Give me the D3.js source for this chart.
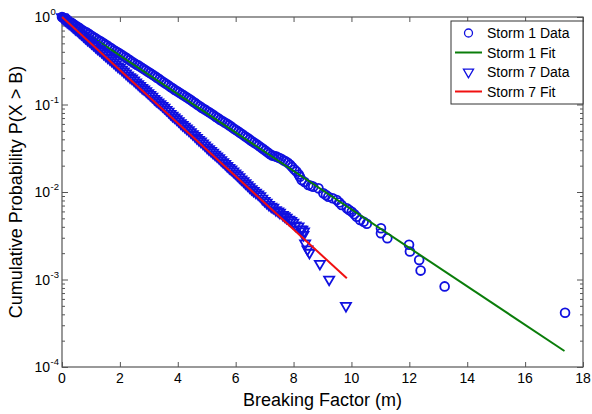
<!DOCTYPE html>
<html>
<head>
<meta charset="utf-8">
<script src="https://cdn.jsdelivr.net/npm/d3@7"></script>
<style>
    body { margin: 0; background: #fff; }
    text { font-family: "Liberation Sans", Arial, sans-serif; fill: #000; }
</style>
</head>
<body>
<svg id="chart" width="592" height="414"></svg>
<script>
// values: x = breaking factor (m), e = log10 P(X > B)
const storm1X = [0, 0.03, 0.07, 0.12, 0.18, 0.25, 0.33, 0.4, 0.48, 0.56, 0.63, 0.71, 0.79, 0.86, 0.94,
    1.02, 1.1, 1.17, 1.25, 1.33, 1.41, 1.48, 1.56, 1.64, 1.72, 1.8, 1.87, 1.95, 2.03, 2.11, 2.19, 2.26,
    2.34, 2.42, 2.5, 2.58, 2.65, 2.73, 2.81, 2.89, 2.97, 3.04, 3.12, 3.2, 3.28, 3.36, 3.43, 3.51, 3.59,
    3.67, 3.75, 3.82, 3.9, 3.98, 4.06, 4.14, 4.21, 4.29, 4.37, 4.45, 4.53, 4.6, 4.68, 4.76, 4.84, 4.92,
    4.99, 5.07, 5.15, 5.23, 5.31, 5.38, 5.46, 5.54, 5.62, 5.7, 5.77, 5.85, 5.93, 6.01, 6.09, 6.16, 6.24,
    6.32, 6.4, 6.48, 6.55, 6.63, 6.71, 6.79, 6.87, 6.94, 7.02, 7.1, 7.18, 7.26, 7.33, 7.41, 7.49, 7.57,
    7.65, 7.72, 7.8, 7.88, 7.95, 8.03, 8.1, 8.18,
    8.22, 8.28, 8.38, 8.51, 8.6, 8.68, 8.86, 9.03, 9.12, 9.2, 9.35, 9.49, 9.58, 9.66, 9.84, 9.92, 10.01,
    10.1, 10.18, 10.3, 10.42, 10.53, 11.02, 11.02, 11.24, 11.99, 12.02, 12.34, 12.39, 13.22, 17.38]
const storm1E = [0, -0.007, -0.015, -0.026, -0.039, -0.055, -0.067, -0.083, -0.1, -0.118, -0.133,
    -0.151, -0.168, -0.179, -0.196, -0.214, -0.231, -0.247, -0.264, -0.277, -0.294, -0.31, -0.327,
    -0.345, -0.362, -0.38, -0.395, -0.408, -0.425, -0.443, -0.46, -0.476, -0.493, -0.511, -0.528, -0.546,
    -0.556, -0.574, -0.592, -0.609, -0.627, -0.64, -0.658, -0.675, -0.693, -0.71, -0.728, -0.745, -0.763,
    -0.78, -0.8, -0.815, -0.833, -0.848, -0.866, -0.883, -0.897, -0.914, -0.932, -0.949, -0.969,
    -0.984, -1.002, -1.021, -1.039, -1.054, -1.07, -1.085, -1.103, -1.12, -1.14, -1.155, -1.173, -1.188,
    -1.206, -1.221, -1.236, -1.253, -1.274, -1.292, -1.309, -1.326, -1.344, -1.362, -1.381, -1.399,
    -1.417, -1.435, -1.452, -1.47, -1.49, -1.506, -1.527, -1.545, -1.565, -1.583, -1.588, -1.596, -1.608,
    -1.621, -1.638, -1.649, -1.666, -1.689, -1.714, -1.742, -1.767, -1.8,
    -1.825, -1.863, -1.885, -1.92, -1.93, -1.939, -1.958, -2.015, -2.035, -2.054, -2.072, -2.091, -2.12,
    -2.149, -2.186, -2.205, -2.225, -2.255, -2.282, -2.32, -2.34, -2.362, -2.415, -2.472, -2.529, -2.602,
    -2.68, -2.778, -2.898, -3.079, -3.38]

const storm7X = [0, 0.03, 0.07, 0.12, 0.18, 0.25, 0.32, 0.39, 0.46, 0.53, 0.6, 0.67, 0.74, 0.81, 0.88,
    0.95, 1.02, 1.09, 1.16, 1.23, 1.3, 1.37, 1.44, 1.51, 1.58, 1.65, 1.72, 1.79, 1.86, 1.93, 2.0, 2.07,
    2.14, 2.21, 2.28, 2.35, 2.42, 2.49, 2.56, 2.63, 2.7, 2.77, 2.84, 2.91, 2.98, 3.05, 3.12, 3.19, 3.26,
    3.33, 3.4, 3.47, 3.54, 3.61, 3.68, 3.75, 3.82, 3.89, 3.96, 4.03, 4.1, 4.17, 4.24, 4.31, 4.38, 4.45,
    4.52, 4.59, 4.66, 4.73, 4.8, 4.87, 4.94, 5.01, 5.08, 5.15, 5.22, 5.29, 5.36, 5.43, 5.5, 5.57, 5.64,
    5.71, 5.78, 5.85, 5.92, 5.99, 6.06, 6.13, 6.2, 6.27, 6.34, 6.41, 6.48, 6.55,
    6.62, 6.7, 6.78, 6.85, 6.92, 7.0, 7.07, 7.15, 7.23, 7.3, 7.39, 7.47, 7.53, 7.63, 7.69, 7.76, 7.85,
    7.92, 7.99, 8.07, 8.17, 8.25, 8.3, 8.36, 8.34, 8.4, 8.48, 8.55, 8.91, 9.23, 9.81]
const storm7E = [0, -0.009, -0.021, -0.037, -0.055, -0.074, -0.092, -0.114, -0.135, -0.151, -0.173,
    -0.194, -0.215, -0.237, -0.258, -0.274, -0.296, -0.317, -0.338, -0.36, -0.376, -0.397, -0.419, -0.44,
    -0.461, -0.478, -0.499, -0.52, -0.542, -0.563, -0.579, -0.601, -0.622, -0.643, -0.665, -0.686,
    -0.702, -0.724, -0.745, -0.766, -0.787, -0.809, -0.825, -0.846, -0.868, -0.889, -0.91, -0.935, -0.956,
    -0.974, -0.994, -1.015, -1.036, -1.06, -1.081, -1.105, -1.127, -1.145, -1.166, -1.188, -1.212, -1.233,
    -1.252, -1.273, -1.292, -1.314, -1.337, -1.358, -1.382, -1.404, -1.422, -1.443, -1.465, -1.489,
    -1.51, -1.529, -1.55, -1.571, -1.591, -1.612, -1.635, -1.657, -1.678, -1.702, -1.724, -1.742,
    -1.763, -1.785, -1.807, -1.83, -1.854, -1.875, -1.899, -1.921, -1.944, -1.965,
    -1.985, -2.005, -2.025, -2.045, -2.075, -2.1, -2.121, -2.145, -2.165, -2.179, -2.205, -2.22, -2.236,
    -2.26, -2.275, -2.293, -2.315, -2.33, -2.35, -2.38, -2.392, -2.425, -2.43, -2.45, -2.49, -2.587, -2.655,
    -2.693, -2.82, -3.0, -3.301]

// exponential fits are straight lines on the log axis: two end points each
const storm1FitX = [0, 17.36]
const storm1FitE = [0, -3.817]
const storm7FitX = [0, 9.84]
const storm7FitE = [0, -2.986]

const xTicks = [0, 2, 4, 6, 8, 10, 12, 14, 16, 18]
const yDecades = [-4, -3, -2, -1, 0]
const legendLabels = ['Storm 1 Data', 'Storm 1 Fit', 'Storm 7 Data', 'Storm 7 Fit']

const dataColor = '#1010e0'
const fit1Color = '#0a7d0a'
const fit7Color = '#f01010'
const axisColor = '#555'

let plotLeft = 62, plotRight = 583, plotTop = 17, plotBottom = 367

let $svg = d3.select('#chart')

let scaleX = d3.scaleLinear().domain([0, 18]).range([plotLeft, plotRight])
let scaleY = d3.scaleLog().domain([1e-4, 1]).range([plotBottom, plotTop])

function toPoints(xs, es) {
    return xs.map((x, i) => ({x: x, p: Math.pow(10, es[i])}))
}

// axes box and ticks
let majorY = yDecades.map(e => Math.pow(10, e))
let minorY = scaleY.ticks().filter(v => {
    let l = Math.log10(v)
    return Math.abs(l - Math.round(l)) > 1e-6
})

function styleAxis(g) {
    g.select('.domain').remove()
    g.selectAll('line').attr('stroke', axisColor)
    g.selectAll('text').remove()
}

$svg.append('g').attr('transform', 'translate(0,' + plotBottom + ')')
    .call(d3.axisBottom(scaleX).tickValues(xTicks).tickSize(-5)).call(styleAxis)
$svg.append('g').attr('transform', 'translate(0,' + plotTop + ')')
    .call(d3.axisTop(scaleX).tickValues(xTicks).tickSize(-5)).call(styleAxis)
$svg.append('g').attr('transform', 'translate(' + plotLeft + ',0)')
    .call(d3.axisLeft(scaleY).tickValues(majorY).tickSize(-6)).call(styleAxis)
$svg.append('g').attr('transform', 'translate(' + plotLeft + ',0)')
    .call(d3.axisLeft(scaleY).tickValues(minorY).tickSize(-3)).call(styleAxis)
$svg.append('g').attr('transform', 'translate(' + plotRight + ',0)')
    .call(d3.axisRight(scaleY).tickValues(majorY).tickSize(-6)).call(styleAxis)
$svg.append('g').attr('transform', 'translate(' + plotRight + ',0)')
    .call(d3.axisRight(scaleY).tickValues(minorY).tickSize(-3)).call(styleAxis)

$svg.append('rect')
    .attr('x', plotLeft).attr('y', plotTop)
    .attr('width', plotRight - plotLeft).attr('height', plotBottom - plotTop)
    .attr('fill', 'none').attr('stroke', axisColor).attr('stroke-width', 1.2)

// tick labels
$svg.append('g').selectAll('text').data(xTicks).enter().append('text')
    .attr('x', d => scaleX(d)).attr('y', plotBottom + 16)
    .attr('text-anchor', 'middle').attr('font-size', '14px')
    .text(d => d)

let yLabels = $svg.append('g').selectAll('g').data(yDecades).enter().append('g')
    .attr('transform', d => 'translate(0,' + scaleY(Math.pow(10, d)) + ')')
yLabels.append('text')
    .attr('x', 50).attr('y', 5)
    .attr('text-anchor', 'end').attr('font-size', '14px')
    .text('10')
yLabels.append('text')
    .attr('x', 50.5).attr('y', -2)
    .attr('font-size', '9.5px')
    .text(d => d)

// axis titles
$svg.append('text')
    .attr('x', (plotLeft + plotRight) / 2).attr('y', 406)
    .attr('text-anchor', 'middle').attr('font-size', '18px')
    .text('Breaking Factor (m)')
$svg.append('text')
    .attr('transform', 'translate(22,' + (plotTop + plotBottom) / 2 + ') rotate(-90)')
    .attr('text-anchor', 'middle').attr('font-size', '18px')
    .text('Cumulative Probability P(X > B)')

// series, in the order they were plotted
let lineFunction = d3.line().x(d => scaleX(d.x)).y(d => scaleY(d.p))
let triangle = d3.symbol().type(d3.symbolTriangle).size(44)

function drawCircles(points) {
    $svg.append('g').selectAll('circle').data(points).enter().append('circle')
        .attr('cx', d => scaleX(d.x)).attr('cy', d => scaleY(d.p)).attr('r', 4.4)
        .attr('fill', 'none').attr('stroke', dataColor).attr('stroke-width', 1.8)
}

function drawTriangles(points) {
    $svg.append('g').selectAll('path').data(points).enter().append('path')
        .attr('d', triangle)
        .attr('transform', d => 'translate(' + scaleX(d.x) + ',' + scaleY(d.p) + ') rotate(180)')
        .attr('fill', 'none').attr('stroke', dataColor).attr('stroke-width', 1.8)
}

function drawFit(points, color) {
    $svg.append('path').attr('d', lineFunction(points))
        .attr('fill', 'none').attr('stroke', color).attr('stroke-width', 2)
}

drawCircles(toPoints(storm1X, storm1E))
drawFit(toPoints(storm1FitX, storm1FitE), fit1Color)
drawTriangles(toPoints(storm7X, storm7E))
drawFit(toPoints(storm7FitX, storm7FitE), fit7Color)

// legend
let legendX = 451, legendY = 21, legendW = plotRight - legendX, legendH = 83
let $legend = $svg.append('g')
$legend.append('rect')
    .attr('x', legendX).attr('y', legendY).attr('width', legendW).attr('height', legendH)
    .attr('fill', '#fff').attr('stroke', '#333').attr('stroke-width', 1)

let rows = $legend.selectAll('g.row').data(legendLabels).enter().append('g')
    .attr('class', 'row')
    .attr('transform', (d, i) => 'translate(' + legendX + ',' + (legendY + 12 + i * 19.5) + ')')
rows.append('text')
    .attr('x', 36).attr('y', 5).attr('font-size', '14px')
    .text(d => d)
rows.filter((d, i) => i === 0).append('circle')
    .attr('cx', 17.5).attr('cy', 0).attr('r', 4)
    .attr('fill', 'none').attr('stroke', dataColor).attr('stroke-width', 1.3)
rows.filter((d, i) => i === 2).append('path')
    .attr('d', triangle).attr('transform', 'translate(17.5,0) rotate(180)')
    .attr('fill', 'none').attr('stroke', dataColor).attr('stroke-width', 1.3)
rows.filter((d, i) => i === 1 || i === 3).append('line')
    .attr('x1', 4).attr('x2', 31).attr('y1', 0).attr('y2', 0)
    .attr('stroke', (d, i) => i === 0 ? fit1Color : fit7Color).attr('stroke-width', 2)
</script>
</body>
</html>
